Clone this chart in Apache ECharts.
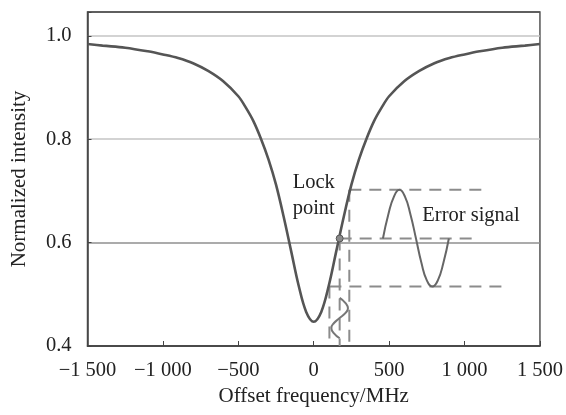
<!DOCTYPE html>
<html>
<head>
<meta charset="utf-8">
<script src="https://cdn.jsdelivr.net/npm/echarts@6/dist/echarts.min.js"></script>
<style>
  html, body { margin: 0; padding: 0; background: #fff; }
  #chart { width: 566px; height: 415px; }
</style>
</head>
<body>
<div id="chart"></div>
<script>
// absorption dip (MHz vs normalized intensity)
const freq = [-1500, -1400, -1250, -1100, -1000, -900, -800, -700, -600, -500, -450, -400, -350, -300, -250,
  -200, -150, -100, -50, 0, 50, 100, 150, 200, 250, 300, 350, 400, 450, 500, 600, 700, 800, 900, 1000,
  1100, 1250, 1400, 1500]
const intensity = [0.984, 0.981, 0.977, 0.970, 0.964, 0.957, 0.947, 0.932, 0.912, 0.883, 0.861, 0.835, 0.801,
  0.761, 0.712, 0.651, 0.584, 0.517, 0.466, 0.447, 0.466, 0.517, 0.584, 0.651, 0.712, 0.761, 0.801, 0.835,
  0.861, 0.883, 0.912, 0.932, 0.947, 0.957, 0.964, 0.970, 0.977, 0.981, 0.984]

// lock point
const lockFreq = 172
const lockLevel = 0.608

// dither extremes
const ditherFreqLow = 104
const ditherFreqHigh = 236
const levelHigh = 0.702
const levelLow = 0.515

// horizontal dashed guide ends
const guideEndHigh = 1152
const guideEndMid = 1080
const guideEndLow = 1245

// error signal sketch
const errFreq = [459, 495, 532, 568, 605, 641, 678, 714, 750, 787, 823, 860, 896]
const errLevel = [0.608, 0.655, 0.689, 0.702, 0.689, 0.655, 0.608, 0.561, 0.527, 0.515, 0.527, 0.561, 0.608]

// modulation sketch (drawn below the lock point)
const modFreq = [172, 211, 227, 211, 172, 133, 117, 133, 172]
const modLevel = [0.493, 0.483, 0.473, 0.464, 0.454, 0.444, 0.435, 0.425, 0.415]

const xTicks = [-1500, -1000, -500, 0, 500, 1000, 1500]
const yTicks = [0.4, 0.6, 0.8, 1.0]

const font = 'Liberation Serif'
const pair = (xs, ys) => xs.map((x, i) => [x, ys[i]])

function fmtX(v) {
  const a = Math.abs(v)
  const s = a >= 1000 ? Math.floor(a / 1000) + ' ' + String(a % 1000).padStart(3, '0') : String(a)
  return (v < 0 ? '\u2212' : '') + s
}

const dashStyle = { color: '#8c8c8c', width: 2, type: [12, 8] }
function guide(points) {
  return {
    type: 'line', data: points, symbol: 'none', silent: true, z: 2,
    lineStyle: dashStyle,
  }
}

const chart = echarts.init(document.getElementById('chart'))
chart.setOption({
  animation: false,
  grid: {
    left: 87.5, right: 25.5, top: 12, bottom: 69,
    show: true, borderColor: '#555', borderWidth: 1.5,
  },
  xAxis: {
    type: 'value',
    min: xTicks[0], max: xTicks[xTicks.length - 1], interval: 500,
    name: 'Offset frequency/MHz',
    nameLocation: 'middle', nameGap: 40,
    nameTextStyle: { fontFamily: font, fontSize: 21, color: '#222' },
    axisLine: { onZero: false, lineStyle: { color: '#444', width: 1.5 } },
    axisTick: { inside: true, length: 5, lineStyle: { color: '#444' } },
    axisLabel: { fontFamily: font, fontSize: 20.5, color: '#222', margin: 14, formatter: fmtX },
    splitLine: { show: false },
  },
  yAxis: {
    type: 'value',
    min: yTicks[0], max: 1.046, interval: 0.2,
    name: 'Normalized intensity',
    nameLocation: 'middle', nameGap: 58,
    nameTextStyle: { fontFamily: font, fontSize: 21, color: '#222' },
    axisLine: { onZero: false, lineStyle: { color: '#444', width: 1.5 } },
    axisTick: { inside: true, length: 4, lineStyle: { color: '#444' } },
    axisLabel: {
      fontFamily: font, fontSize: 20.5, color: '#222', margin: 16,
      formatter: (v) => (yTicks.some((t) => Math.abs(t - v) < 1e-6) ? v.toFixed(1) : ''),
    },
    splitLine: {
      show: true,
      lineStyle: { color: ['#555', '#8f8f8f', '#c4c4c4', '#c4c4c4', '#555'], width: 1.5 },
    },
  },
  series: [
    guide([[lockFreq, lockLevel], [guideEndMid, lockLevel]]),
    guide([[ditherFreqHigh, levelHigh], [guideEndHigh, levelHigh]]),
    guide([[ditherFreqLow, levelLow], [guideEndLow, levelLow]]),
    guide([[lockFreq, lockLevel], [lockFreq, yTicks[0]]]),
    guide([[ditherFreqHigh, levelHigh], [ditherFreqHigh, yTicks[0]]]),
    guide([[ditherFreqLow, levelLow], [ditherFreqLow, yTicks[0]]]),
    {
      type: 'line', data: pair(errFreq, errLevel), smooth: true, symbol: 'none', z: 3,
      lineStyle: { color: '#666', width: 2 },
    },
    {
      type: 'line', data: pair(modFreq, modLevel), smooth: true, symbol: 'none', z: 3,
      lineStyle: { color: '#777', width: 2 },
    },
    {
      type: 'line', data: pair(freq, intensity), smooth: 0.35, symbol: 'none', z: 4,
      lineStyle: { color: '#555', width: 2.6 },
    },
    {
      type: 'scatter', z: 5, symbolSize: 7,
      data: [[lockFreq, lockLevel]],
      itemStyle: { color: '#8a8a8a', borderColor: '#555', borderWidth: 1, opacity: 1 },
    },
    {
      type: 'scatter', z: 6, symbolSize: 0,
      data: [[0, 0.691]],
      itemStyle: { opacity: 1 },
      label: {
        show: true, position: 'inside', formatter: 'Lock\npoint',
        fontFamily: font, fontSize: 20.5, lineHeight: 26, color: '#222', align: 'center',
      },
    },
    {
      type: 'scatter', z: 6, symbolSize: 0,
      data: [[720, 0.653]],
      itemStyle: { opacity: 1 },
      label: {
        show: true, position: 'right', distance: 0, formatter: 'Error signal',
        fontFamily: font, fontSize: 20.5, color: '#222',
      },
    },
  ],
})
</script>
</body>
</html>
